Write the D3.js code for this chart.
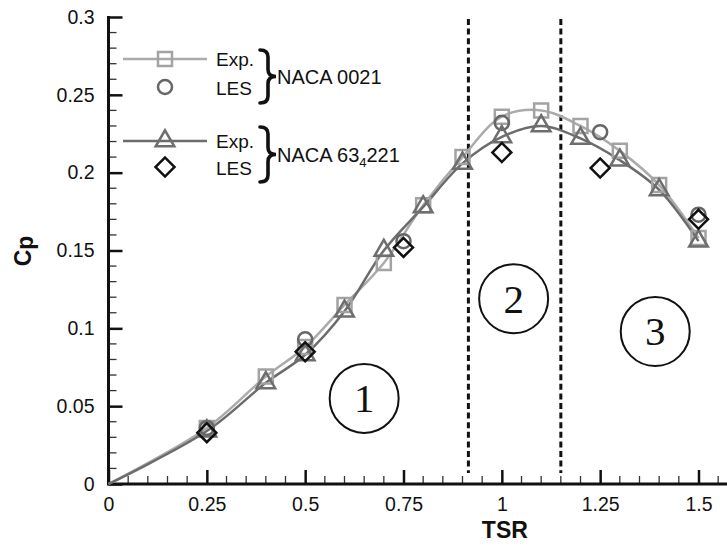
<!DOCTYPE html>
<html>
<head>
<meta charset="utf-8">
<script src="https://cdn.jsdelivr.net/npm/d3@7"></script>
<style>
	body { margin: 0; background: #fff; }
	svg { display: block; font-family: "Liberation Sans", Arial, sans-serif; }
</style>
</head>
<body>
<svg id="chart" width="727" height="550"></svg>
<script>
// data
var tsrExp = [ 0, 0.25, 0.4, 0.5, 0.6, 0.7, 0.8, 0.9, 1.0, 1.1, 1.2, 1.3, 1.4, 1.5 ];
var cp0021Exp = [ 0, 0.036, 0.069, 0.088, 0.115, 0.142, 0.179, 0.210, 0.236, 0.240, 0.230, 0.214, 0.192, 0.158 ];
var cp63Exp = [ 0, 0.034, 0.065, 0.083, 0.111, 0.150, 0.178, 0.206, 0.223, 0.230, 0.222, 0.208, 0.189, 0.156 ];
var tsrLes = [ 0.25, 0.5, 0.75, 1.0, 1.25, 1.5 ];
var cp0021Les = [ 0.036, 0.093, 0.156, 0.232, 0.226, 0.173 ];
var cp63Les = [ 0.033, 0.085, 0.152, 0.213, 0.203, 0.170 ];
var regionBounds = [ 0.915, 1.15 ];
var regionLabels = [ '1', '2', '3' ];
var regionPos = [ [ 0.65, 0.055 ], [ 1.03, 0.119 ], [ 1.39, 0.098 ] ];
var xMajor = [ 0, 0.25, 0.5, 0.75, 1, 1.25, 1.5 ];
var yMajor = [ 0, 0.05, 0.1, 0.15, 0.2, 0.25, 0.3 ];

var svg = d3.select( '#chart' );

var x = d3.scaleLinear().domain( [ 0, 1.5 ] ).range( [ 108.5, 698.5 ] );
var y = d3.scaleLinear().domain( [ 0, 0.3 ] ).range( [ 484, 17 ] );

var ink = '#111';

// minor ticks first, then majors + labels
var xMinor = d3.range( 0, 1.6, 0.05 ).filter( function( _v ) {
	return Math.abs( _v / 0.25 - Math.round( _v / 0.25 ) ) > 1e-6;
} );
var yMinor = d3.range( 0, 0.3001, 0.01 ).filter( function( _v ) {
	return Math.abs( _v / 0.05 - Math.round( _v / 0.05 ) ) > 1e-6;
} );

svg.append( 'g' ).selectAll( 'line' ).data( xMinor ).enter().append( 'line' )
	.attr( 'x1', function( _d ) { return x( _d ); } )
	.attr( 'x2', function( _d ) { return x( _d ); } )
	.attr( 'y1', y( 0 ) ).attr( 'y2', y( 0 ) - 8 )
	.attr( 'stroke', '#333' ).attr( 'stroke-width', 1.3 );

svg.append( 'g' ).selectAll( 'line' ).data( yMinor ).enter().append( 'line' )
	.attr( 'y1', function( _d ) { return y( _d ); } )
	.attr( 'y2', function( _d ) { return y( _d ); } )
	.attr( 'x1', x( 0 ) ).attr( 'x2', x( 0 ) + 8 )
	.attr( 'stroke', '#333' ).attr( 'stroke-width', 1.3 );

var xAxis = svg.append( 'g' )
	.attr( 'transform', 'translate(0,' + y( 0 ) + ')' )
	.call( d3.axisBottom( x ).tickValues( xMajor ).tickSizeInner( -14 ).tickSizeOuter( 0 ).tickPadding( 13 ).tickFormat( d3.format( '~g' ) ) );

var yAxis = svg.append( 'g' )
	.attr( 'transform', 'translate(' + x( 0 ) + ',0)' )
	.call( d3.axisLeft( y ).tickValues( yMajor ).tickSizeInner( -14 ).tickSizeOuter( 0 ).tickPadding( 14 ).tickFormat( d3.format( '~g' ) ) );

[ xAxis, yAxis ].forEach( function( _g ) {
	_g.select( '.domain' ).remove();
	_g.selectAll( '.tick line' ).attr( 'stroke', ink ).attr( 'stroke-width', 2.5 );
	_g.selectAll( '.tick text' ).attr( 'fill', ink ).style( 'font-size', '19.5px' ).style( 'font-family', '"Liberation Sans", Arial, sans-serif' );
} );

// axis lines (bottom one runs past the edge)
svg.append( 'line' ).attr( 'x1', x( 0 ) - 1.5 ).attr( 'x2', 727 ).attr( 'y1', y( 0 ) ).attr( 'y2', y( 0 ) )
	.attr( 'stroke', ink ).attr( 'stroke-width', 3 );
svg.append( 'line' ).attr( 'x1', x( 0 ) ).attr( 'x2', x( 0 ) ).attr( 'y1', y( 0 ) ).attr( 'y2', y( 0.3 ) - 1 )
	.attr( 'stroke', ink ).attr( 'stroke-width', 3 );

// axis titles
svg.append( 'text' ).attr( 'x', x( 1 ) + 3 ).attr( 'y', 538 ).attr( 'text-anchor', 'middle' )
	.style( 'font-size', '23px' ).style( 'font-weight', 'bold' ).attr( 'fill', ink ).text( 'TSR' );
var cpLabel = svg.append( 'text' ).attr( 'transform', 'translate(31,251) rotate(-90)' ).attr( 'text-anchor', 'middle' )
	.style( 'font-size', '23px' ).style( 'font-weight', 'bold' ).attr( 'fill', ink );
cpLabel.append( 'tspan' ).text( 'C' );
cpLabel.append( 'tspan' ).attr( 'dy', 2 ).text( 'p' );

// region dividers
svg.append( 'g' ).selectAll( 'line' ).data( regionBounds ).enter().append( 'line' )
	.attr( 'x1', function( _d ) { return x( _d ); } )
	.attr( 'x2', function( _d ) { return x( _d ); } )
	.attr( 'y1', y( 0.3 ) + 2 ).attr( 'y2', y( 0.007 ) )
	.attr( 'stroke', ink ).attr( 'stroke-width', 3 ).attr( 'stroke-dasharray', '6,3.6' );

// region numbers
var regions = svg.append( 'g' ).selectAll( 'g' ).data( regionLabels ).enter().append( 'g' )
	.attr( 'transform', function( _d, _i ) {
		return 'translate(' + x( regionPos[ _i ][ 0 ] ) + ',' + y( regionPos[ _i ][ 1 ] ) + ')';
	} );
regions.append( 'circle' ).attr( 'r', 34.5 ).attr( 'fill', 'none' ).attr( 'stroke', ink ).attr( 'stroke-width', 2 );
regions.append( 'text' ).attr( 'text-anchor', 'middle' ).attr( 'dy', 14 )
	.style( 'font-family', '"Liberation Serif", "Times New Roman", serif' ).style( 'font-size', '41px' )
	.attr( 'fill', ink ).text( function( _d ) { return _d; } );

// curves
var lineGen = d3.line()
	.x( function( _d ) { return x( _d[ 0 ] ); } )
	.y( function( _d ) { return y( _d[ 1 ] ); } )
	.curve( d3.curveCatmullRom.alpha( 0.5 ) );

var light = '#ababab', dark = '#6c6c6c';

var pts0021 = d3.zip( tsrExp, cp0021Exp );
var pts63 = d3.zip( tsrExp, cp63Exp );

svg.append( 'path' ).datum( pts0021 ).attr( 'd', lineGen )
	.attr( 'fill', 'none' ).attr( 'stroke', light ).attr( 'stroke-width', 2.5 );
svg.append( 'path' ).datum( pts63 ).attr( 'd', lineGen )
	.attr( 'fill', 'none' ).attr( 'stroke', dark ).attr( 'stroke-width', 2.5 );

var sym = {
	square: d3.symbol().type( d3.symbolSquare ).size( 196 ),
	circle: d3.symbol().type( d3.symbolCircle ).size( 155 ),
	triangle: d3.symbol().type( d3.symbolTriangle ).size( 150 ),
	diamond: d3.symbol().type( d3.symbolSquare ).size( 180 )
};

function markers( _pts, _shape, _color, _rot ) {
	svg.append( 'g' ).selectAll( 'path' ).data( _pts.filter( function( _d ) { return _d[ 0 ] > 0; } ) )
		.enter().append( 'path' )
		.attr( 'd', sym[ _shape ] )
		.attr( 'transform', function( _d ) {
			return 'translate(' + x( _d[ 0 ] ) + ',' + y( _d[ 1 ] ) + ')' + ( _rot ? ' rotate(45)' : '' );
		} )
		.attr( 'fill', 'none' ).attr( 'stroke', _color ).attr( 'stroke-width', 2.5 );
}

markers( pts0021, 'square', '#a3a3a3', false );
markers( d3.zip( tsrLes, cp0021Les ), 'circle', '#666', false );
markers( pts63, 'triangle', '#6e6e6e', false );
markers( d3.zip( tsrLes, cp63Les ), 'diamond', ink, true );

// legend
var legend = svg.append( 'g' );
var legRows = [
	{ lineY: 59, lesY: 87, color: light, mk: '#a3a3a3', shape: 'square', braceTop: 50, braceBot: 103 },
	{ lineY: 141, lesY: 167, color: dark, mk: '#6e6e6e', shape: 'triangle', braceTop: 127, braceBot: 182 }
];
var legNames = [ 'NACA 0021', 'NACA 63' ];

legRows.forEach( function( _r, _i ) {
	legend.append( 'line' ).attr( 'x1', 123 ).attr( 'x2', 207 ).attr( 'y1', _r.lineY ).attr( 'y2', _r.lineY )
		.attr( 'stroke', _r.color ).attr( 'stroke-width', 2.5 );
	legend.append( 'path' ).attr( 'd', sym[ _r.shape ] ).attr( 'transform', 'translate(165,' + _r.lineY + ')' )
		.attr( 'fill', 'none' ).attr( 'stroke', _r.mk ).attr( 'stroke-width', 2.5 );
	legend.append( 'path' ).attr( 'd', _i === 0 ? sym.circle : sym.diamond )
		.attr( 'transform', 'translate(165,' + _r.lesY + ')' + ( _i === 0 ? '' : ' rotate(45)' ) )
		.attr( 'fill', 'none' ).attr( 'stroke', _i === 0 ? '#666' : ink ).attr( 'stroke-width', 2.5 );

	legend.append( 'text' ).attr( 'x', 216 ).attr( 'y', _r.lineY + 7 ).style( 'font-size', '19px' ).attr( 'fill', ink ).text( 'Exp.' );
	legend.append( 'text' ).attr( 'x', 216 ).attr( 'y', _r.lesY + 8 ).style( 'font-size', '19px' ).attr( 'fill', ink ).text( 'LES' );

	// curly brace
	var t = _r.braceTop, b = _r.braceBot, m = ( t + b ) / 2, x0 = 260, x1 = 268, x2 = 276, r = 7;
	legend.append( 'path' )
		.attr( 'd', 'M' + x0 + ',' + t + ' Q' + x1 + ',' + t + ' ' + x1 + ',' + ( t + r ) +
			' L' + x1 + ',' + ( m - r ) + ' Q' + x1 + ',' + m + ' ' + x2 + ',' + m +
			' Q' + x1 + ',' + m + ' ' + x1 + ',' + ( m + r ) +
			' L' + x1 + ',' + ( b - r ) + ' Q' + x1 + ',' + b + ' ' + x0 + ',' + b )
		.attr( 'fill', 'none' ).attr( 'stroke', ink ).attr( 'stroke-width', 3.6 ).attr( 'stroke-linecap', 'round' );

	var name = legend.append( 'text' ).attr( 'x', 277 ).attr( 'y', m + 7 ).style( 'font-size', '20px' ).attr( 'fill', ink );
	name.append( 'tspan' ).text( legNames[ _i ] );
	if ( _i === 1 ) {
		name.append( 'tspan' ).attr( 'dy', 5 ).style( 'font-size', '13px' ).text( '4' );
		name.append( 'tspan' ).attr( 'dy', -5 ).text( '221' );
	}
} );
</script>
</body>
</html>
